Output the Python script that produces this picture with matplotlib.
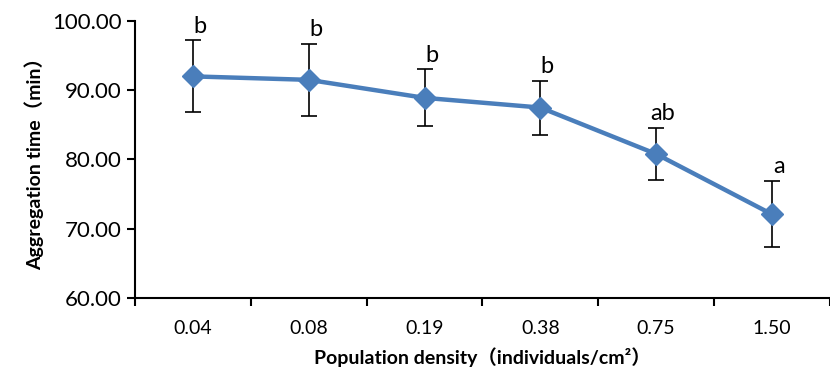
import matplotlib.pyplot as plt
import numpy as np

plt.rcParams['font.family'] = ['Lato', 'Noto Sans CJK SC', 'DejaVu Sans']

densities = ['0.04', '0.08', '0.19', '0.38', '0.75', '1.50']
agg_time = [92.0, 91.5, 88.9, 87.5, 80.8, 72.1]
err = [5.2, 5.2, 4.1, 3.9, 3.8, 4.8]
letters = ['b', 'b', 'b', 'b', 'ab', 'a']

fig = plt.figure(figsize=(8.3, 3.8), dpi=100)
ax = fig.add_axes([0.1627, 0.2158, 0.837, 0.729])

x = np.arange(len(densities))

# error bars first, then the line on top
ax.errorbar(x, agg_time, yerr=err, fmt='none', ecolor='black',
            elinewidth=1.2, capsize=6, capthick=1.2, zorder=2)
ax.plot(x, agg_time, color='#4a7ebb', linewidth=3.2, marker='D',
        markersize=11, zorder=3)

# significance letters above the upper caps
for xi, yi, e, lab in zip(x, agg_time, err, letters):
    ax.text(xi + 0.06, yi + e + 0.5, lab, ha='center', va='bottom', fontsize=17)

ax.set_xlim(-0.5, len(densities) - 0.5)
ax.set_ylim(60, 100)
ax.set_yticks(np.arange(60, 101, 10))
ax.set_yticklabels(['%.2f' % v for v in np.arange(60, 101, 10)], fontsize=16)

ax.set_xticks(x)
ax.set_xticklabels(densities, fontsize=14)
ax.set_xticks(np.arange(-0.5, len(densities), 1), minor=True)
ax.tick_params(axis='x', which='major', length=0, pad=16)
ax.tick_params(axis='x', which='minor', length=6, width=1.5, direction='out')
ax.tick_params(axis='y', length=6, width=1.5, direction='out')

for side in ['top', 'right']:
    ax.spines[side].set_visible(False)
for side in ['left', 'bottom']:
    ax.spines[side].set_linewidth(1.5)

ax.set_xlabel('Population density（individuals/cm²）', fontsize=14,
              fontweight='bold', labelpad=7)
ax.set_ylabel('Aggregation time（min）', fontsize=14, fontweight='bold',
              labelpad=6)

fig.savefig('out.png', dpi=100)
